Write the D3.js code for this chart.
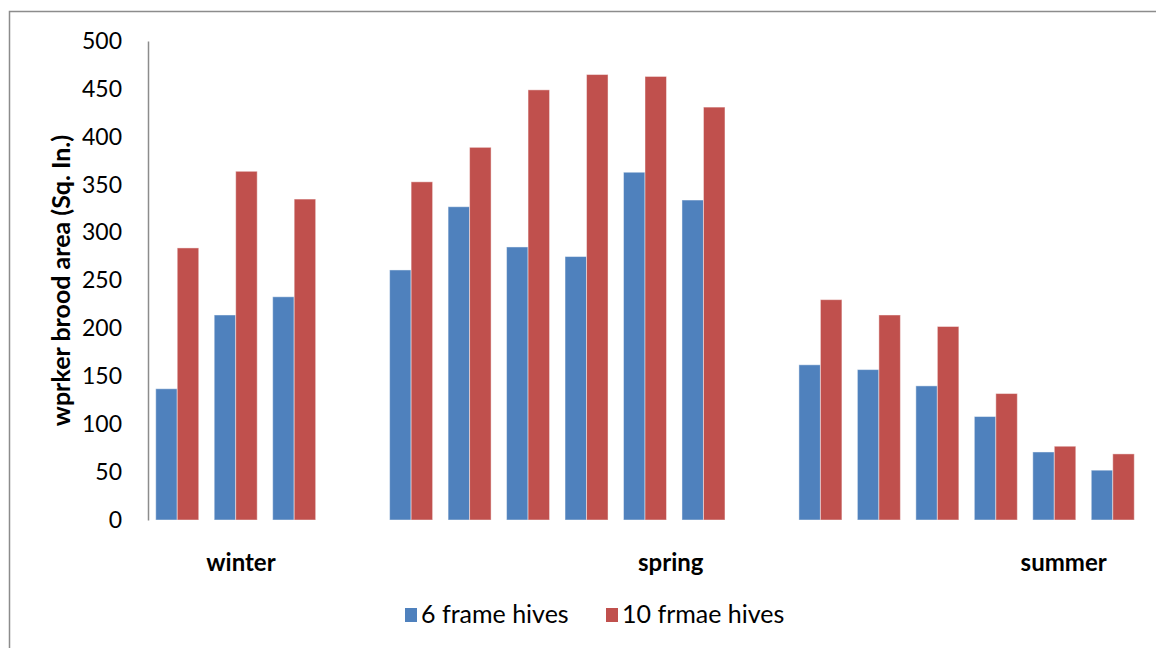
<!DOCTYPE html>
<html>
<head>
<meta charset="utf-8">
<script src="https://cdn.jsdelivr.net/npm/d3@7"></script>
<style>
  html, body { margin: 0; padding: 0; background: #fff; }
  svg { display: block; font-family: Lato, "Open Sans", sans-serif; }
</style>
</head>
<body>
<svg id="chart" width="1156" height="648"></svg>
<script>
// 17 slots: 3 winter, gap, 6 spring, gap, 6 summer
const categories = ["w1", "w2", "w3", "gap1", "sp1", "sp2", "sp3", "sp4", "sp5", "sp6", "gap2", "su1", "su2", "su3", "su4", "su5", "su6"];
const sixFrame = [137, 214, 233, null, 261, 327, 285, 275, 363, 334, null, 162, 157, 140, 108, 71, 52];
const tenFrame = [284, 364, 335, null, 353, 389, 449, 465, 463, 431, null, 230, 214, 202, 132, 77, 69];
const seasons = ["winter", "spring", "summer"];
const seriesNames = ["6 frame hives", "10 frmae hives"];
const yTicks = [0, 50, 100, 150, 200, 250, 300, 350, 400, 450, 500];

const colors = ["#4F81BD", "#C0504D"];
// where each season label sits, in category slots from the left edge
const seasonPos = [1.59, 8.94, 15.66];

const svg = d3.select("#chart");
const margin = { left: 148, right: 14, top: 41, bottom: 128 };
const width = 1156, height = 648;

// outer chart frame
svg.append("rect")
  .attr("x", 9.5).attr("y", 11.5)
  .attr("width", 1160).attr("height", 660)
  .attr("fill", "none").attr("stroke", "#8c8c8c").attr("stroke-width", 1.5);

const x = d3.scaleBand()
  .domain(categories)
  .range([margin.left, width - margin.right]);

const xInner = d3.scaleBand()
  .domain([0, 1])
  .range([0, x.bandwidth()])
  .paddingInner(0)
  .paddingOuter(0.36);

const y = d3.scaleLinear()
  .domain([0, 500])
  .range([height - margin.bottom, margin.top]);

const rows = categories.map((c, i) => ({ c, vals: [sixFrame[i], tenFrame[i]] }));

const groups = svg.append("g")
  .selectAll("g")
  .data(rows)
  .join("g")
  .attr("transform", (d) => `translate(${x(d.c)},0)`);

groups.selectAll("rect")
  .data((d) => d.vals.map((v, k) => ({ v, k })).filter((e) => e.v != null))
  .join("rect")
  .attr("x", (e) => xInner(e.k))
  .attr("y", (e) => y(e.v))
  .attr("width", xInner.bandwidth())
  .attr("height", (e) => y(0) - y(e.v))
  .attr("fill", (e) => colors[e.k])
  .attr("stroke", "rgba(255,255,255,0.45)")
  .attr("stroke-width", 1);

// y axis
const yAxis = svg.append("g")
  .attr("transform", `translate(${margin.left},0)`)
  .call(d3.axisLeft(y).tickValues(yTicks).tickSize(0).tickPadding(26));
yAxis.select(".domain").attr("stroke", "#8c8c8c").attr("stroke-width", 1.5);
yAxis.selectAll("text")
  .attr("font-size", 23)
  .attr("font-family", "Lato, sans-serif")
  .attr("fill", "#000");

svg.append("text")
  .attr("transform", `translate(70,${(y(0) + y(500)) / 2}) rotate(-90)`)
  .attr("text-anchor", "middle")
  .attr("font-size", 25)
  .attr("font-weight", "bold")
  .text("wprker brood area (Sq. In.)");

// season labels
const slot = x.step();
svg.append("g")
  .selectAll("text")
  .data(seasons)
  .join("text")
  .attr("x", (d, i) => margin.left + slot * seasonPos[i])
  .attr("y", 571)
  .attr("text-anchor", "middle")
  .attr("font-size", 24)
  .attr("font-weight", "bold")
  .text((d) => d);

// legend
const legend = svg.append("g").attr("transform", "translate(405,615)");
const legendX = [0, 201];
const items = legend.selectAll("g")
  .data(seriesNames)
  .join("g")
  .attr("transform", (d, i) => `translate(${legendX[i]},0)`);
items.append("rect")
  .attr("x", 0).attr("y", -7)
  .attr("width", 12).attr("height", 14)
  .attr("fill", (d, i) => colors[i]);
items.append("text")
  .attr("x", 16).attr("y", 8)
  .attr("font-size", 25)
  .text((d) => d);
</script>
</body>
</html>
